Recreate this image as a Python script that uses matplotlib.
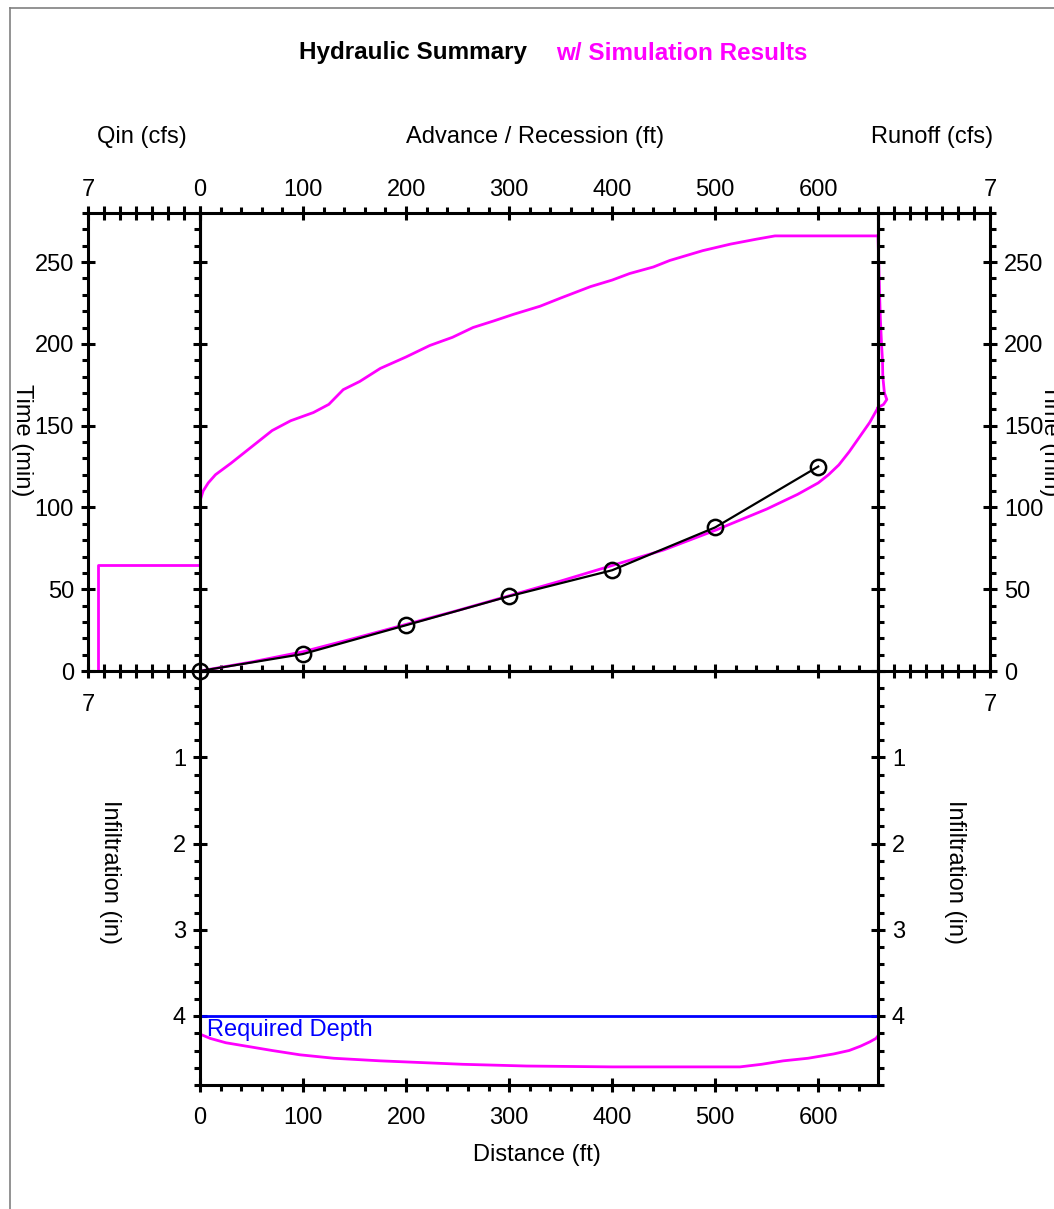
import numpy as np
import matplotlib.pyplot as plt
from matplotlib.lines import Line2D
from matplotlib.ticker import MultipleLocator, FixedLocator, FixedFormatter

plt.rcParams['font.family'] = ['Liberation Sans', 'DejaVu Sans']
plt.rcParams['font.size'] = 17

MAGENTA = '#ff00ff'
BLUE = '#0000ff'

# --- data ---
# advance (simulated)
adv_dist = [0, 50, 100, 150, 200, 250, 300, 350, 400, 450, 500, 550, 580, 600, 610, 620, 630, 640, 650, 658]
adv_time = [0, 5.5, 11.8, 20, 28.5, 37, 46, 55, 64.5, 74, 86, 99, 108, 115, 120, 126, 134, 143, 152, 161]

# recession (simulated)
rec_dist = [0, 3, 8, 15, 30, 50, 70, 88, 110, 125, 139, 155, 175, 200, 223, 245, 265, 285, 304, 330, 350,
            379, 400, 417, 440, 456, 488, 515, 540, 558, 658]
rec_time = [104, 110, 115, 120, 127, 137, 147, 153, 158, 163, 172, 177, 185, 192, 199, 204, 210, 214, 218,
            223, 228, 235, 239, 243, 247, 251, 257, 261, 264, 266, 266]

# observed advance
obs_dist = [0, 100, 200, 300, 400, 500, 600]
obs_time = [0, 10.4, 28, 45.7, 61.6, 87.8, 125]

# inflow hydrograph
qin_time = [0, 65, 65]
qin_flow = [6.4, 6.4, 0]

# runoff hydrograph
ro_time = [161, 163, 166, 170, 180, 190, 200, 215, 230, 245, 255, 266]
ro_flow = [0, 0.35, 0.55, 0.4, 0.3, 0.28, 0.22, 0.15, 0.1, 0.06, 0.03, 0]

# infiltrated depth
inf_dist = [0, 10, 25, 45, 70, 97, 130, 175, 215, 255, 317, 400, 450, 524, 545, 566, 590, 615, 630, 641, 650, 656, 658]
inf_depth = [4.21, 4.26, 4.31, 4.35, 4.40, 4.45, 4.49, 4.52, 4.54, 4.56, 4.58, 4.59, 4.59, 4.59, 4.56, 4.52,
             4.49, 4.44, 4.40, 4.35, 4.30, 4.26, 4.23]
required_depth = 4.0

field_len = 658
t_max = 280
q_max = 7
d_max = 4.8

W, H = 1054, 1209
fig = plt.figure(figsize=(W / 100, H / 100), dpi=100)


def box(x0, y0, x1, y1):
    # pixel box -> figure fraction rect
    return [x0 / W, 1 - y1 / H, (x1 - x0) / W, (y1 - y0) / H]


SP = 2.2
def style(ax):
    for s in ax.spines.values():
        s.set_linewidth(SP)
    ax.tick_params(which='major', direction='inout', length=10, width=SP, labelsize=17)
    ax.tick_params(which='minor', direction='out', length=4.5, width=SP)


axl = fig.add_axes(box(200, 671, 878, 1085))
axq = fig.add_axes(box(88, 213, 200, 671))
axr = fig.add_axes(box(878, 213, 990, 671))
ax = fig.add_axes(box(200, 213, 878, 671))
for a in (ax, axq, axr, axl):
    style(a)
ax.patch.set_visible(False)
ax.set_zorder(5)

# main advance / recession panel
ax.plot(rec_dist, rec_time, color=MAGENTA, lw=2)
ax.plot(adv_dist, adv_time, color=MAGENTA, lw=2)
ax.plot(obs_dist, obs_time, color='black', lw=1.6, marker='o', ms=11,
        mfc='none', mec='black', mew=1.8, clip_on=False, zorder=4)
ax.set_xlim(0, field_len)
ax.set_ylim(0, t_max)
ax.xaxis.set_major_locator(MultipleLocator(100))
ax.xaxis.set_minor_locator(MultipleLocator(20))
ax.yaxis.set_major_locator(MultipleLocator(50))
ax.yaxis.set_minor_locator(MultipleLocator(10))
ax.tick_params(axis='x', which='both', top=True, bottom=False, labeltop=True, labelbottom=False, pad=4)
ax.tick_params(axis='y', which='both', left=True, right=True, labelleft=False)

# inflow panel
axq.plot(qin_flow, qin_time, color=MAGENTA, lw=2)
axq.set_xlim(q_max, 0)
axq.set_ylim(0, t_max)
axq.xaxis.set_major_locator(FixedLocator(list(range(q_max, -1, -1))))
axq.xaxis.set_major_formatter(FixedFormatter([str(q_max)] + [''] * q_max))
axq.yaxis.set_major_locator(MultipleLocator(50))
axq.yaxis.set_minor_locator(MultipleLocator(10))
axq.tick_params(axis='x', which='both', top=True, bottom=True, labeltop=True, labelbottom=False, pad=4)
axq.tick_params(axis='y', which='both', left=True, right=False, pad=5)
axq.annotate(str(q_max), xy=(q_max, 0), xytext=(0, -24.5), textcoords='offset points',
             ha='center', va='center', fontsize=17, annotation_clip=False)

# runoff panel
axr.plot(ro_flow, ro_time, color=MAGENTA, lw=2, clip_on=False)
axr.set_xlim(0, q_max)
axr.set_ylim(0, t_max)
axr.xaxis.set_major_locator(FixedLocator(list(range(0, q_max + 1))))
axr.xaxis.set_major_formatter(FixedFormatter([''] * q_max + [str(q_max)]))
axr.yaxis.set_major_locator(MultipleLocator(50))
axr.yaxis.set_minor_locator(MultipleLocator(10))
axr.tick_params(axis='x', which='both', top=True, bottom=True, labeltop=True, labelbottom=False, pad=4)
axr.tick_params(axis='y', which='both', left=False, right=True, labelleft=False, labelright=True, pad=5)
axr.annotate(str(q_max), xy=(q_max, 0), xytext=(0, -24.5), textcoords='offset points',
             ha='center', va='center', fontsize=17, annotation_clip=False)

# infiltration panel
axl.axhline(required_depth, color=BLUE, lw=2)
axl.plot(inf_dist, inf_depth, color=MAGENTA, lw=2)
axl.annotate('Required Depth', xy=(0, required_depth), xytext=(5, -2), textcoords='offset points',
             ha='left', va='top', color=BLUE, fontsize=17)
axl.set_xlim(0, field_len)
axl.set_ylim(d_max, 0)
axl.xaxis.set_major_locator(MultipleLocator(100))
axl.xaxis.set_minor_locator(MultipleLocator(20))
axl.yaxis.set_major_locator(FixedLocator([0, 1, 2, 3, 4]))
axl.yaxis.set_major_formatter(FixedFormatter(['', '1', '2', '3', '4']))
axl.yaxis.set_minor_locator(MultipleLocator(0.2))
axl.tick_params(axis='x', which='both', top=True, bottom=True, labelbottom=True, pad=11)
axl.tick_params(axis='y', which='both', left=True, right=True, labelleft=True, labelright=True, pad=5)

# titles and axis labels
fig.text(413 / W, 1 - 53 / H, 'Hydraulic Summary', ha='center', va='center', fontsize=17.5, fontweight='bold')
fig.text(682 / W, 1 - 53 / H, 'w/ Simulation Results', ha='center', va='center', fontsize=17.5,
         fontweight='bold', color=MAGENTA)
fig.text(142 / W, 1 - 137 / H, 'Qin (cfs)', ha='center', va='center')
fig.text(535 / W, 1 - 137 / H, 'Advance / Recession (ft)', ha='center', va='center')
fig.text(932 / W, 1 - 137 / H, 'Runoff (cfs)', ha='center', va='center')
fig.text(537 / W, 1 - 1155 / H, 'Distance (ft)', ha='center', va='center')
fig.text(22 / W, 1 - 440 / H, 'Time (min)', ha='center', va='center', rotation=270)
fig.text(1050 / W, 1 - 440 / H, 'Time (min)', ha='center', va='center', rotation=270)
fig.text(110 / W, 1 - 872 / H, 'Infiltration (in)', ha='center', va='center', rotation=270)
fig.text(955 / W, 1 - 872 / H, 'Infiltration (in)', ha='center', va='center', rotation=270)

# window frame
fig.add_artist(Line2D([10 / W, 10 / W], [0, 1 - 8 / H], color='#808080', lw=1.2))
fig.add_artist(Line2D([10 / W, 1], [1 - 8 / H, 1 - 8 / H], color='#808080', lw=1.2))

fig.savefig('out.png', dpi=100)
